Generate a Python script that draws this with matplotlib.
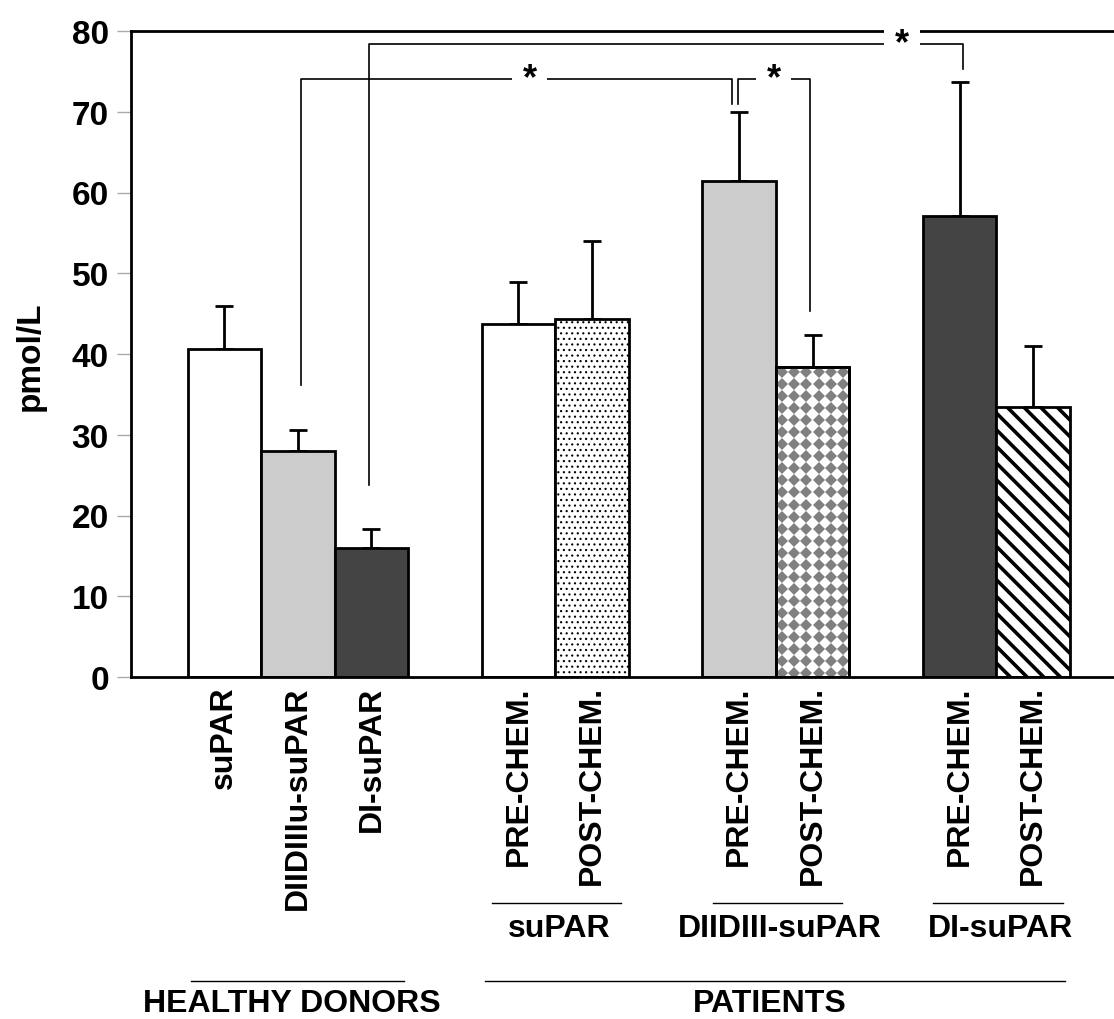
import matplotlib
matplotlib.use("Agg")
import matplotlib.pyplot as plt
import numpy as np

plt.rcParams['font.family'] = ['Liberation Sans', 'DejaVu Sans']
plt.rcParams['font.weight'] = 'bold'

# data
bar_labels = ["suPAR", "DIIDIIIu-suPAR", "DI-suPAR",
              "PRE-CHEM.", "POST-CHEM.", "PRE-CHEM.", "POST-CHEM.",
              "PRE-CHEM.", "POST-CHEM."]
bar_pos = [0, 1, 2, 4, 5, 7, 8, 10, 11]
means = [40.6, 28.0, 16.0, 43.7, 44.3, 61.4, 38.4, 57.1, 33.4]
errors = [5.3, 2.6, 2.3, 5.2, 9.7, 8.6, 4.0, 16.6, 7.6]
fills = ["white", "#cccccc", "#444444", "white", "white",
         "#cccccc", "white", "#444444", "white"]
hatches = [None, None, None, None, "...", None, None, None, "\\\\"]

sub_groups = ["suPAR", "DIIDIII-suPAR", "DI-suPAR"]
sub_group_bars = [(4, 5), (7, 8), (10, 11)]
main_groups = ["HEALTHY DONORS", "PATIENTS"]
main_group_bars = [(0, 2), (4, 11)]

# significance brackets: (x1, y1, x2, y2, top)
brackets = [(1.04, 36.2, 6.91, 71.0, 74.05),
            (1.97, 23.8, 10.05, 75.3, 78.4),
            (6.99, 71.0, 7.97, 45.3, 74.05)]
star_x = [4.15, 9.22, 7.47]

fig = plt.figure(figsize=(11.14, 10.2), dpi=100)
ax = fig.add_axes([131/1114, 1-678/1020, 1-131/1114, 646/1020])

bars = []
for x, m, f, h in zip(bar_pos, means, fills, hatches):
    with plt.rc_context({'hatch.linewidth': 2.6 if h == "\\\\" else 0.8}):
        b = ax.bar(x, m, width=1.0, color=f, edgecolor='black', linewidth=2,
                   hatch=h, zorder=2)
    bars.append(b[0])

# checker (grey diamonds) on DIIDIII post-chem bar
chk = bars[6]
x0, w = chk.get_x(), chk.get_width()
xs = np.arange(x0 + w/12, x0 + w, w/6)
ys = np.arange(0.5, chk.get_height(), 1.49)
gx, gy = np.meshgrid(xs, ys)
dots, = ax.plot(gx.ravel(), gy.ravel(), 'D', color='#808080', markersize=6,
                markeredgewidth=0, zorder=2.5)
dots.set_clip_path(chk)
ax.bar(chk.get_x() + w/2, chk.get_height(), width=1.0, fill=False,
       edgecolor='black', linewidth=2, zorder=3)

ax.errorbar(bar_pos, means, yerr=[np.zeros(len(errors)), errors], fmt='none',
            ecolor='black', elinewidth=2, capsize=6.5, capthick=2, zorder=1)

# brackets
for (x1, y1, x2, y2, top), sx in zip(brackets, star_x):
    ax.plot([x1, x1, x2, x2], [y1, top, top, y2], color='black', lw=1.2, zorder=1)
    ax.text(sx, top, "*", ha='center', va='center', fontsize=26,
            fontweight='bold', zorder=4,
            bbox=dict(boxstyle='square,pad=0.3', fc='white', ec='none'))

ax.set_xlim(-1.27, 12.1)
ax.set_ylim(0, 80)
ax.set_yticks(np.arange(0, 81, 10))
ax.tick_params(axis='y', length=10, width=1, color='#aaaaaa', pad=6,
               labelsize=24)
ax.set_xticks(bar_pos)
ax.set_xticklabels(bar_labels, rotation=90, fontsize=23, va='top')
ax.tick_params(axis='x', length=0, pad=6)
ax.spines['right'].set_visible(False)
for s in ['left', 'top', 'bottom']:
    ax.spines[s].set_linewidth(2)

fig.text(30/1114, 1-356/1020, "pmol/L", rotation=90, ha='center',
         va='center', fontsize=24, fontweight='bold')

tr = ax.get_xaxis_transform()
for name, (a, b) in zip(sub_groups, sub_group_bars):
    ax.plot([a - 0.36, b + 0.4], [-0.35, -0.35], color='black', lw=1,
            transform=tr, clip_on=False)
    ax.text((a + b) / 2 + 0.05, -0.366, name, transform=tr, ha='center',
            va='top', fontsize=23, fontweight='bold')
for name, (a, b) in zip(main_groups, main_group_bars):
    ax.plot([a - 0.46, b + 0.44], [-0.4706, -0.4706], color='black', lw=1,
            transform=tr, clip_on=False)
    ax.text((a + b) / 2 - 0.08, -0.517, name, transform=tr, ha='center',
            va='baseline', fontsize=23, fontweight='bold')

fig.savefig("out.png", dpi=100)
